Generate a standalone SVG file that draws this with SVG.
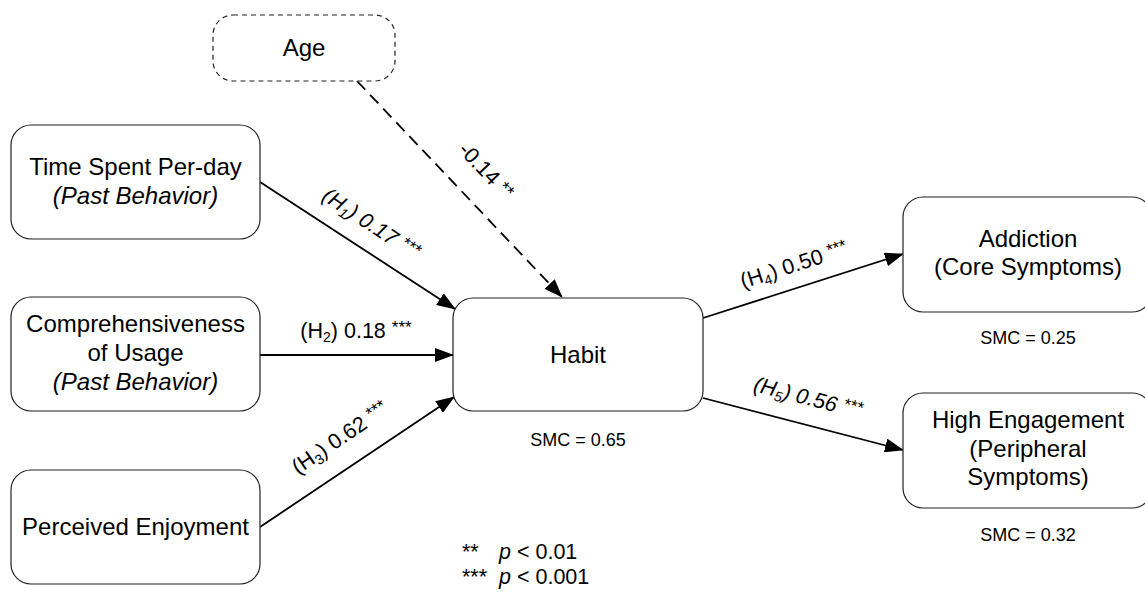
<svg xmlns="http://www.w3.org/2000/svg" width="1145" height="595" viewBox="0 0 1145 595">
<defs>
<style>
.node{fill:#fff;stroke:#222;stroke-width:1.2}
.dash{stroke-dasharray:5 4}
.t{font-family:"Liberation Sans",Arial,sans-serif;font-size:24px;fill:#000;text-anchor:middle}
.lbl{font-family:"Liberation Sans",Arial,sans-serif;font-size:21.5px;fill:#000;text-anchor:middle}
.smc{font-family:"Liberation Sans",Arial,sans-serif;font-size:18px;fill:#000;text-anchor:middle}
.leg{font-family:"Liberation Sans",Arial,sans-serif;font-size:21.5px;fill:#000}
.edge{stroke:#000;stroke-width:1.8;fill:none;marker-end:url(#ah)}
</style>
<marker id="ah" markerWidth="20" markerHeight="14" refX="18" refY="7" orient="auto" markerUnits="userSpaceOnUse">
<path d="M0,0 L19,7 L0,14 z" fill="#000"/>
</marker>
</defs>
<g id="connectors">
<line class="edge" x1="357" y1="81" x2="562" y2="297" style="stroke-dasharray:12 7"/>
<line class="edge" x1="260" y1="182" x2="455" y2="309"/>
<line class="edge" x1="260" y1="355" x2="453" y2="355"/>
<line class="edge" x1="260" y1="527" x2="454" y2="397"/>
<line class="edge" x1="703" y1="318" x2="903" y2="254"/>
<line class="edge" x1="703" y1="398" x2="903" y2="450"/>
<text class="lbl" font-style="italic" transform="translate(371,224) rotate(33.6)" y="7">(H<tspan font-size="14" dy="4">1</tspan><tspan dy="-4">) 0.17 </tspan><tspan font-size="17" dy="-5">***</tspan></text>
<text class="lbl" transform="translate(486,171) rotate(46.6)" y="7">-0.14 <tspan font-size="18" dy="-3">**</tspan></text>
<text class="lbl" x="356" y="338">(H<tspan font-size="14" dy="4">2</tspan><tspan dy="-4">) 0.18 </tspan><tspan font-size="17" dy="-5">***</tspan></text>
<text class="lbl" transform="translate(340,438) rotate(-34.2)" y="7">(H<tspan font-size="14" dy="4">3</tspan><tspan dy="-4">) 0.62 </tspan><tspan font-size="17" dy="-5">***</tspan></text>
<text class="lbl" transform="translate(794,265) rotate(-17.7)" y="7">(H<tspan font-size="14" dy="4">4</tspan><tspan dy="-4">) 0.50 </tspan><tspan font-size="17" dy="-5">***</tspan></text>
<text class="lbl" font-style="italic" transform="translate(808,398) rotate(14.6)" y="7">(H<tspan font-size="14" dy="4">5</tspan><tspan dy="-4">) 0.56 </tspan><tspan font-size="17" dy="-5">***</tspan></text>
</g>
<g id="age">
<rect class="node dash" x="213" y="15" width="182" height="66" rx="20"/>
<text class="t" x="304" y="56">Age</text>
</g>
<g id="time-spent">
<rect class="node" x="11" y="125" width="249" height="114" rx="20"/>
<text class="t" x="135.5" y="175">Time Spent Per-day</text>
<text class="t" x="135.5" y="204" font-style="italic">(Past Behavior)</text>
</g>
<g id="comprehensiveness">
<rect class="node" x="11" y="297" width="249" height="114" rx="20"/>
<text class="t" x="135.5" y="332">Comprehensiveness</text>
<text class="t" x="135.5" y="361">of Usage</text>
<text class="t" x="135.5" y="390" font-style="italic">(Past Behavior)</text>
</g>
<g id="enjoyment">
<rect class="node" x="11" y="470" width="249" height="114" rx="20"/>
<text class="t" x="135.5" y="535">Perceived Enjoyment</text>
</g>
<g id="habit">
<rect class="node" x="453" y="298" width="250" height="113" rx="20"/>
<text class="t" x="578" y="363">Habit</text>
<text class="smc" x="578" y="446">SMC = 0.65</text>
</g>
<g id="addiction">
<rect class="node" x="903" y="197" width="249" height="115" rx="20"/>
<text class="t" x="1028" y="247">Addiction</text>
<text class="t" x="1028" y="275">(Core Symptoms)</text>
<text class="smc" x="1028" y="344">SMC = 0.25</text>
</g>
<g id="engagement">
<rect class="node" x="903" y="393" width="249" height="115" rx="20"/>
<text class="t" x="1028" y="428">High Engagement</text>
<text class="t" x="1028" y="457">(Peripheral</text>
<text class="t" x="1028" y="485">Symptoms)</text>
<text class="smc" x="1028" y="541">SMC = 0.32</text>
</g>
<g id="legend">
<text class="leg" x="462" y="559">**<tspan x="499" font-style="italic">p</tspan><tspan> &lt; 0.01</tspan></text>
<text class="leg" x="462" y="584">***<tspan x="499" font-style="italic">p</tspan><tspan> &lt; 0.001</tspan></text>
</g>
</svg>
